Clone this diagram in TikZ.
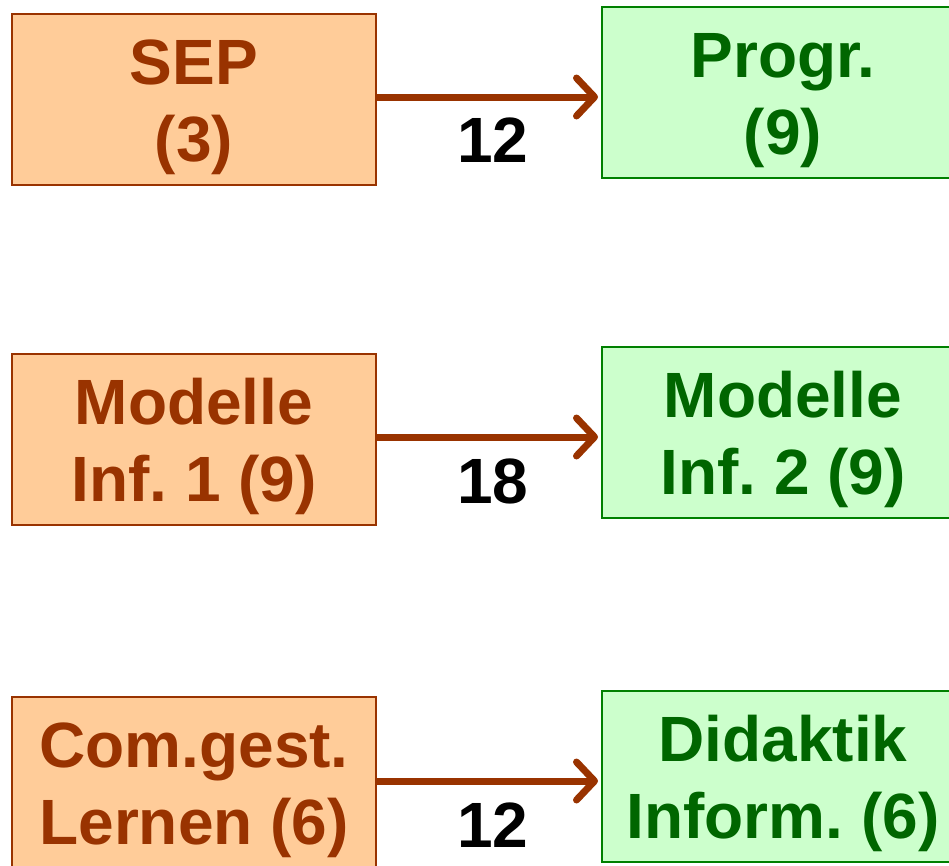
\documentclass[tikz,border=0pt]{standalone}
\usepackage{fontspec}
\setmainfont{Liberation Sans}
\usetikzlibrary{arrows.meta}
\frenchspacing
\definecolor{brn}{HTML}{993300}
\definecolor{orfill}{HTML}{FFCC99}
\definecolor{grfill}{HTML}{CCFFCC}
\definecolor{grline}{HTML}{008000}
\definecolor{grtext}{HTML}{006600}
\newcommand\myfirst{\rule{0pt}{61pt}}
\begin{document}
\begin{tikzpicture}[x=1pt,y=-1pt,
  box/.style={draw, line width=2pt, inner sep=0pt, minimum height=171pt, align=center,
    font=\fontsize{64}{77}\selectfont\bfseries},
  lbox/.style={box, fill=orfill, draw=brn, text=brn, minimum width=364pt},
  rbox/.style={box, fill=grfill, draw=grline, text=grtext, minimum width=362pt},
  arr/.style={draw=brn, line width=7pt,
    -{Straight Barb[length=18pt,width=38pt,line cap=round,line join=round]}, shorten >=3pt},
  num/.style={font=\fontsize{64}{77}\selectfont\bfseries, text=black, inner sep=0pt}]
\useasboundingbox (0,0) rectangle (949,865);
\node[lbox] (sep) at (194,99.5) {\myfirst SEP\\(3)};
\node[rbox] (progr) at (783,92) {\myfirst Progr.\\(9)};
\node[lbox] (mod1) at (194,439.5) {\myfirst Modelle\\Inf. 1 (9)};
\node[rbox] (mod2) at (783,432.5) {\myfirst Modelle\\Inf. 2 (9)};
\node[lbox] (com) at (194,782.5) {\myfirst Com.gest.\\Lernen (6)};
\node[rbox] (did) at (783,776) {\myfirst Didaktik\\Inform. (6)};
\coordinate (a1) at ([yshift=2.5pt]sep.east);
\coordinate (a2) at ([yshift=2.5pt]mod1.east);
\coordinate (a3) at ([yshift=1.5pt]com.east);
\draw[arr] (a1) -- (a1 -| progr.west);
\draw[arr] (a2) -- (a2 -| mod2.west);
\draw[arr] (a3) -- (a3 -| did.west);
\node[num] (n1) at (493,140) {12};
\node[num] (n2) at (493,481) {18};
\node[num] (n3) at (493,825) {12};
\end{tikzpicture}
\end{document}
